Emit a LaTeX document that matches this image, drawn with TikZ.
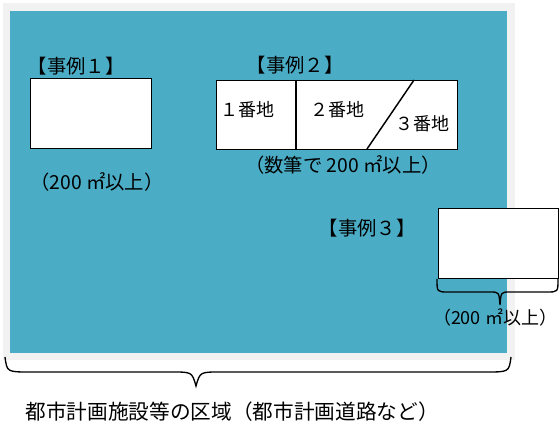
\documentclass[tikz,border=0pt]{standalone}
\usepackage{fontspec}
\setmainfont{Noto Sans CJK JP}
\definecolor{tealbg}{HTML}{4BACC6}
\definecolor{graybg}{HTML}{F2F2F2}
\begin{document}
\begin{tikzpicture}[x=0.75pt,y=-0.75pt,
  lbl/.style={font=\fontsize{14.5}{16}\selectfont, inner sep=0pt},
  num/.style={font=\fontsize{13.5}{15}\selectfont, inner sep=0pt},
  big/.style={font=\fontsize{15.5}{18}\selectfont, inner sep=0pt},
  lot/.style={draw=black, fill=white, line width=1.1pt, inner sep=0pt, anchor=north west},
  brc/.style={draw=black, line width=1pt},
  sep/.style={draw=black, line width=1.1pt}]
\useasboundingbox (0,0) rectangle (560,423);
\fill[graybg] (3,3) rectangle (515,360);
\fill[tealbg] (10,11) rectangle (507,353);
% case 1
\node[lbl] (t1) at (76,66) {【事例１】};
\node[lot, minimum width=90.75pt, minimum height=52.5pt] (c1) at (30,78) {};
\node[lbl] (a1) at (97,182) {（200 ㎡以上）};
% case 2
\node[lbl] (t2) at (295,65) {【事例２】};
\node[lot, minimum width=180.75pt, minimum height=51.75pt] (c2) at (216,80) {};
\coordinate (d1t) at (296,80);
\coordinate (d1b) at (296,149);
\coordinate (d2t) at (414,80);
\coordinate (d2b) at (367,149);
\draw[sep] (d1t) -- (d1b);
\draw[sep] (d2t) -- (d2b);
\node[num] (p1) at (247,110) {１番地};
\node[num] (p2) at (337,110) {２番地};
\node[num] (p3) at (422,124) {３番地};
\node[lbl] (a2) at (343,165) {（数筆で 200 ㎡以上）};
% case 3
\node[lbl] (t3) at (367,228) {【事例３】};
\node[lot, minimum width=90pt, minimum height=52.5pt] (c3) at (438,208) {};
\coordinate (b3l) at (437,279);
\coordinate (b3r) at (558,279);
\coordinate (b3t) at (500,305);
\draw[brc] (b3l) .. controls (437,292) .. (448,292) -- (490,292)
  .. controls (499,292) .. (b3t) .. controls (501,292) .. (510,292)
  -- (547,292) .. controls (558,292) .. (b3r);
\node[num] (a3) at (495,318) {（200 ㎡以上）};
% big brace
\coordinate (bbl) at (5,357);
\coordinate (bbr) at (511,357);
\coordinate (bbt) at (196,386);
\draw[brc] (bbl) .. controls (7,372) .. (30,372) -- (172,372)
  .. controls (192,372) .. (bbt) .. controls (200,372) .. (220,372)
  -- (486,372) .. controls (509,372) .. (bbr);
\node[big] (area) at (232,412) {都市計画施設等の区域（都市計画道路など）};
\end{tikzpicture}
\end{document}
